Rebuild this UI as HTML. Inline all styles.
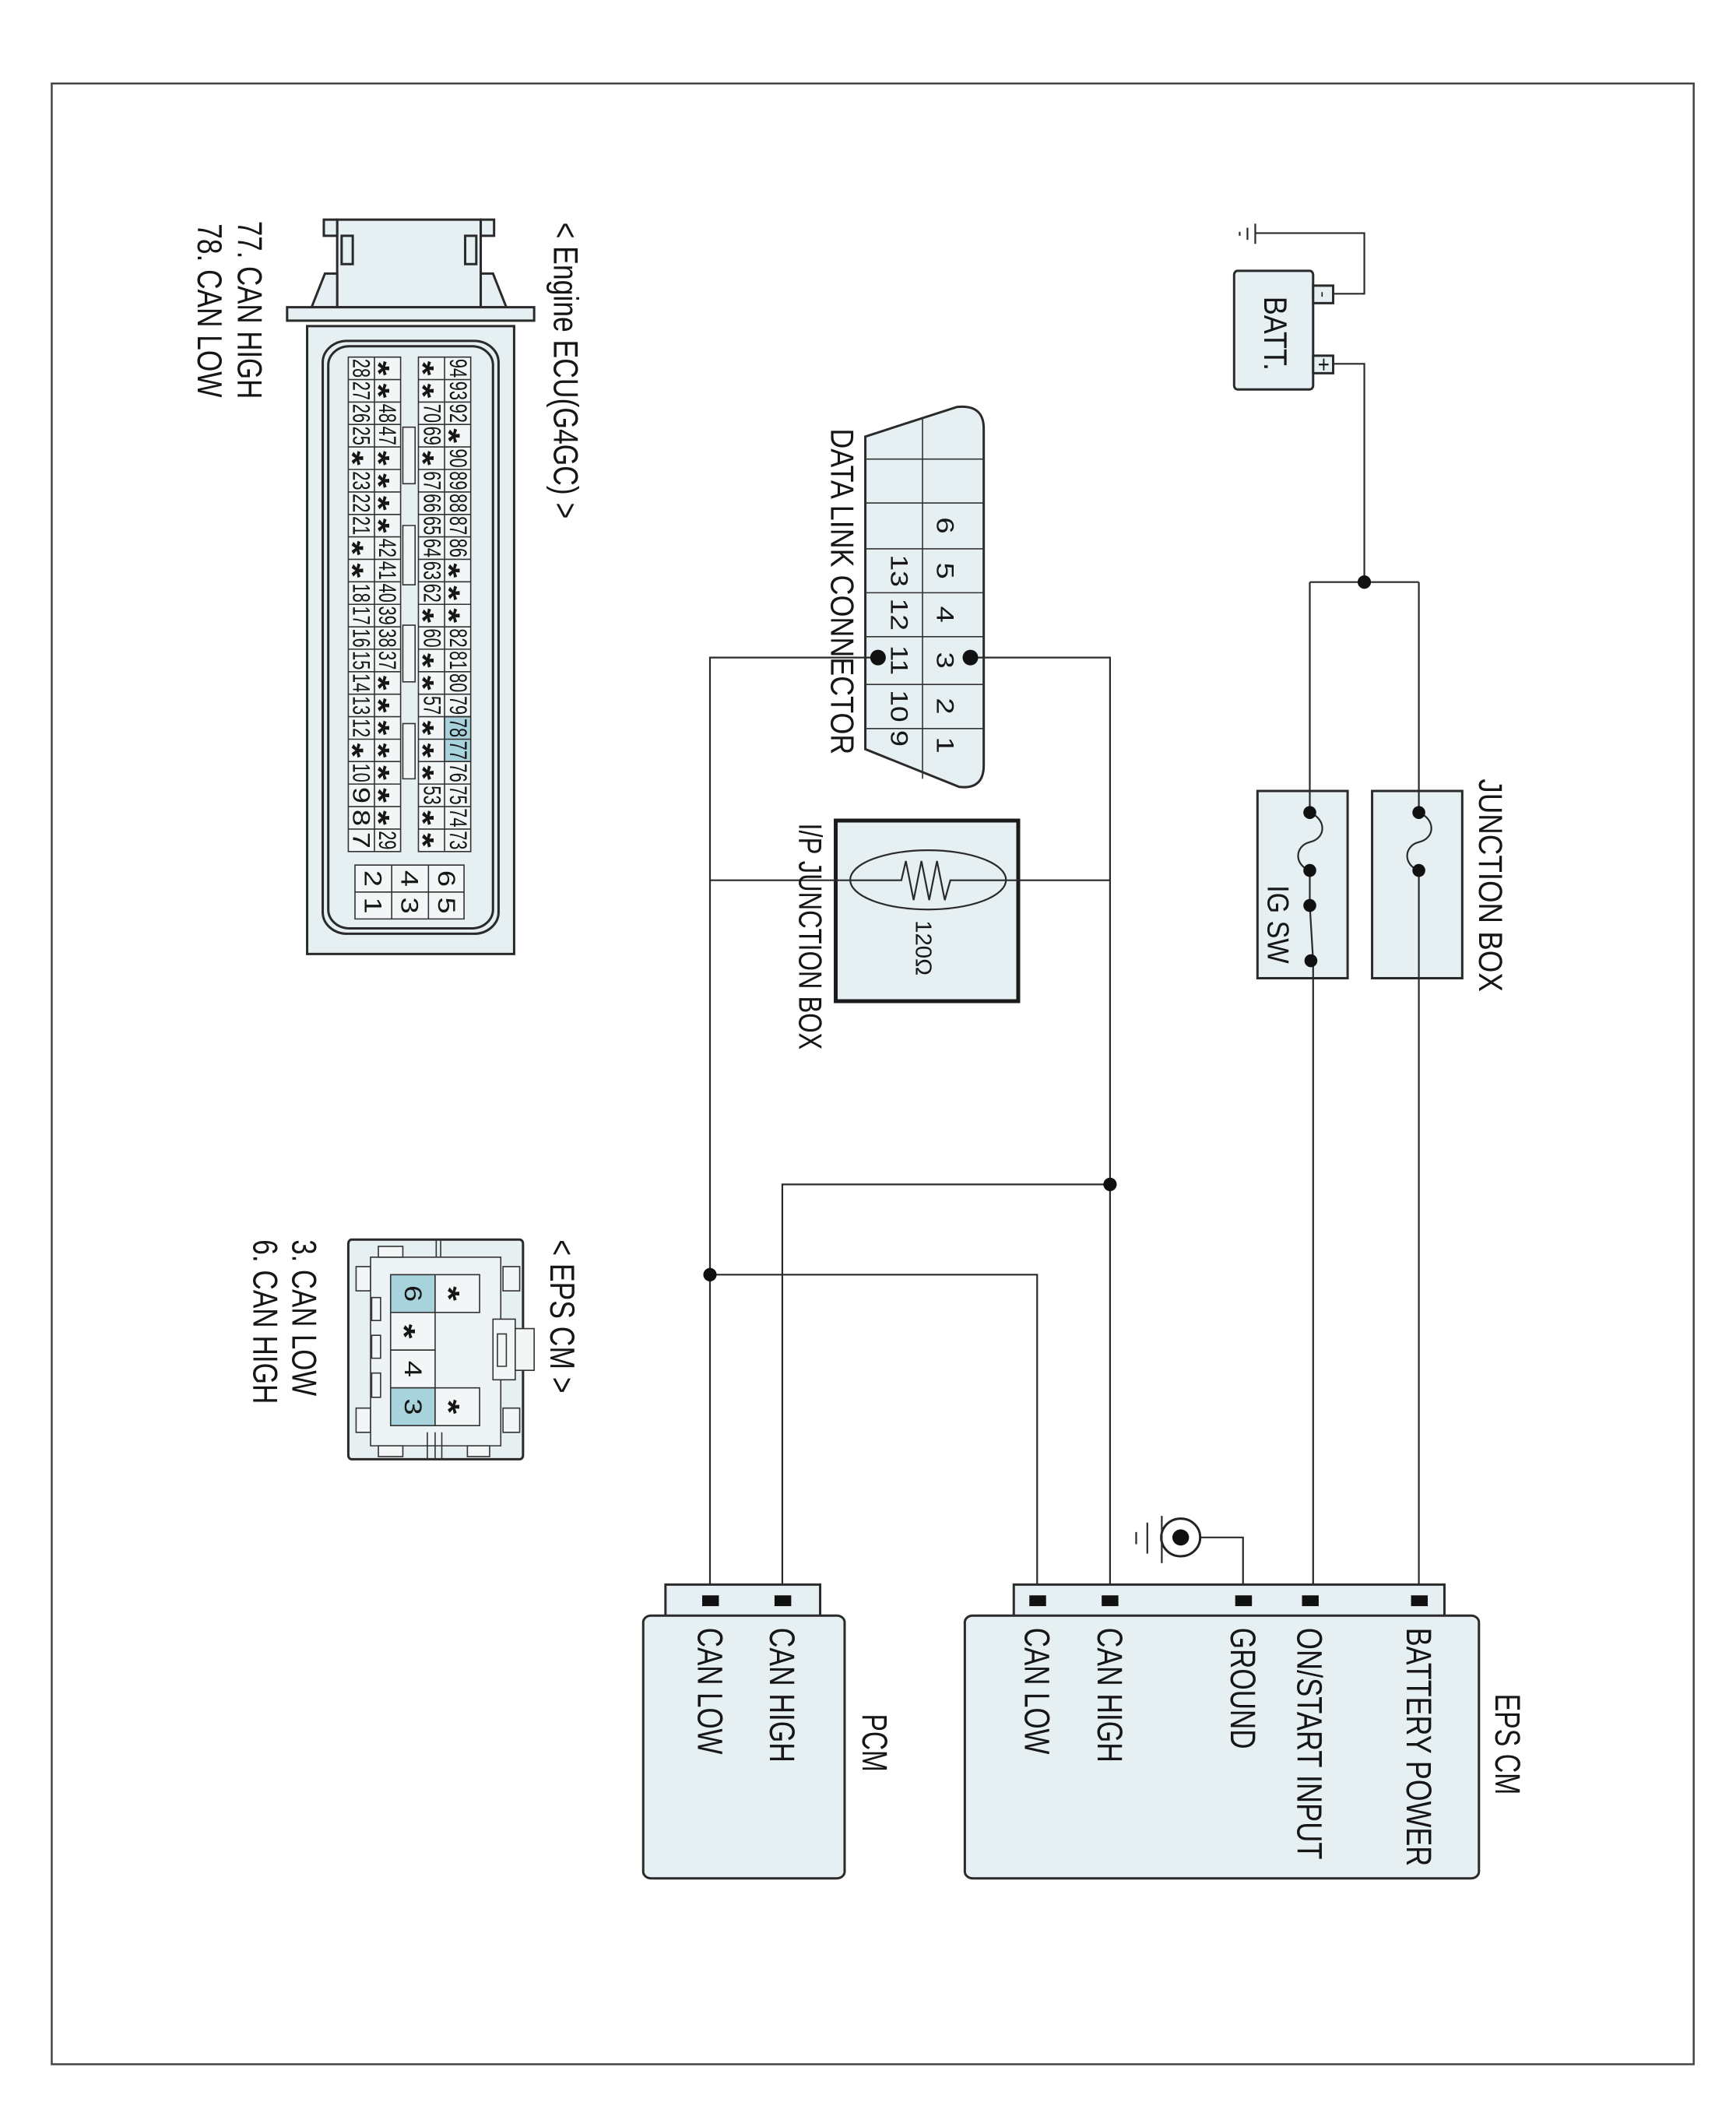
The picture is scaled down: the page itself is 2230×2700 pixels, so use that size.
<!DOCTYPE html>
<html><head><meta charset="utf-8"><style>
html,body{margin:0;padding:0;background:#fff;}
svg{display:block;}
text{font-family:"Liberation Sans",Arial,sans-serif;fill:#161616;}
.w{fill:none;stroke:#2a2a2a;stroke-width:2.2;vector-effect:non-scaling-stroke;}
.b{fill:#e6eff1;stroke:#2a2a2a;stroke-width:3;vector-effect:non-scaling-stroke;}
.bt{fill:#e6eff1;stroke:#1a1a1a;stroke-width:5;vector-effect:non-scaling-stroke;}
.c{fill:#f3f6f7;stroke:#333;stroke-width:1.6;vector-effect:non-scaling-stroke;}
.cy{fill:#a9d3dc;stroke:#333;stroke-width:1.6;vector-effect:non-scaling-stroke;}
.g{stroke:#333;stroke-width:1.6;vector-effect:non-scaling-stroke;fill:none;}
.n{font-size:22px;text-anchor:middle;dominant-baseline:central;}
.s{font-size:28px;text-anchor:middle;dominant-baseline:central;font-weight:bold;}
</style></head><body>
<svg width="2230" height="2700" viewBox="0 0 1560 1560" preserveAspectRatio="none" xmlns="http://www.w3.org/2000/svg">
<rect x="0" y="0" width="1560" height="1560" fill="#fff"/>
<rect x="46.5" y="62" width="1475.5" height="1470" fill="none" stroke="#444" stroke-width="2.5" vector-effect="non-scaling-stroke"/>

<!-- ===== ENGINE ECU ===== -->
<rect class="b" x="303" y="163" width="129" height="65"/>
<rect class="b" x="291" y="163" width="12" height="12"/>
<rect class="b" x="432" y="163" width="12" height="12"/>
<rect class="b" x="307" y="175" width="10" height="21"/>
<rect class="b" x="418" y="175" width="10" height="21"/>
<path class="b" d="M280,228 L292,203 L303,203 L303,228 Z"/>
<path class="b" d="M455,228 L443,203 L432,203 L432,228 Z"/>
<rect class="b" x="258" y="228" width="222" height="10"/>
<rect class="b" x="276" y="242" width="186" height="466"/>
<rect class="b" x="290" y="253" width="158" height="440" rx="22" ry="16"/>
<rect class="b" x="295" y="257" width="148" height="432" rx="19" ry="14"/>
<rect class="c" x="313" y="265" width="47" height="367"/>
<rect class="c" x="376" y="265" width="47" height="367"/>
<rect class="cy" x="399.5" y="531.9" width="23.5" height="33.3"/>
<path class="g" d="M336.5,265 V632 M399.5,265 V632
M313,281.7 H360 M376,281.7 H423 M313,298.4 H360 M376,298.4 H423 M313,315 H360 M376,315 H423 M313,331.7 H360 M376,331.7 H423
M313,348.4 H360 M376,348.4 H423 M313,365.1 H360 M376,365.1 H423 M313,381.8 H360 M376,381.8 H423 M313,398.4 H360 M376,398.4 H423
M313,415.1 H360 M376,415.1 H423 M313,431.8 H360 M376,431.8 H423 M313,448.5 H360 M376,448.5 H423 M313,465.2 H360 M376,465.2 H423
M313,481.8 H360 M376,481.8 H423 M313,498.5 H360 M376,498.5 H423 M313,515.2 H360 M376,515.2 H423 M313,531.9 H360 M376,531.9 H423
M313,548.6 H360 M376,548.6 H423 M313,565.2 H360 M376,565.2 H423 M313,581.9 H360 M376,581.9 H423 M313,598.6 H360 M376,598.6 H423
M313,615.3 H360 M376,615.3 H423"/>
<rect class="c" x="362" y="317" width="11" height="42"/>
<rect class="c" x="362" y="390" width="11" height="44"/>
<rect class="c" x="362" y="464" width="11" height="42"/>
<rect class="c" x="362" y="537" width="11" height="41"/>
<!-- 6 pin -->
<rect class="c" x="319" y="642" width="98" height="40"/>
<path class="g" d="M352,642 V682 M385,642 V682 M319,662 H417"/>

<!-- col1 94..73 -->
<g transform="translate(411.5,0)">
<text class="n" transform="translate(0,273.3) rotate(90)" textLength="14" lengthAdjust="spacingAndGlyphs">94</text>
<text class="n" transform="translate(0,290) rotate(90)" textLength="14" lengthAdjust="spacingAndGlyphs">93</text>
<text class="n" transform="translate(0,306.7) rotate(90)" textLength="14" lengthAdjust="spacingAndGlyphs">92</text>
<text class="s" transform="translate(0,323.4) rotate(90)" dy="0.3em">*</text>
<text class="n" transform="translate(0,340) rotate(90)" textLength="14" lengthAdjust="spacingAndGlyphs">90</text>
<text class="n" transform="translate(0,356.7) rotate(90)" textLength="14" lengthAdjust="spacingAndGlyphs">89</text>
<text class="n" transform="translate(0,373.4) rotate(90)" textLength="14" lengthAdjust="spacingAndGlyphs">88</text>
<text class="n" transform="translate(0,390.1) rotate(90)" textLength="14" lengthAdjust="spacingAndGlyphs">87</text>
<text class="n" transform="translate(0,406.7) rotate(90)" textLength="14" lengthAdjust="spacingAndGlyphs">86</text>
<text class="s" transform="translate(0,423.4) rotate(90)" dy="0.3em">*</text>
<text class="s" transform="translate(0,440.1) rotate(90)" dy="0.3em">*</text>
<text class="s" transform="translate(0,456.8) rotate(90)" dy="0.3em">*</text>
<text class="n" transform="translate(0,473.5) rotate(90)" textLength="14" lengthAdjust="spacingAndGlyphs">82</text>
<text class="n" transform="translate(0,490.1) rotate(90)" textLength="14" lengthAdjust="spacingAndGlyphs">81</text>
<text class="n" transform="translate(0,506.8) rotate(90)" textLength="14" lengthAdjust="spacingAndGlyphs">80</text>
<text class="n" transform="translate(0,523.5) rotate(90)" textLength="14" lengthAdjust="spacingAndGlyphs">79</text>
<text class="n" transform="translate(0,540.2) rotate(90)" textLength="14" lengthAdjust="spacingAndGlyphs">78</text>
<text class="n" transform="translate(0,556.9) rotate(90)" textLength="14" lengthAdjust="spacingAndGlyphs">77</text>
<text class="n" transform="translate(0,573.5) rotate(90)" textLength="14" lengthAdjust="spacingAndGlyphs">76</text>
<text class="n" transform="translate(0,590.2) rotate(90)" textLength="14" lengthAdjust="spacingAndGlyphs">75</text>
<text class="n" transform="translate(0,606.9) rotate(90)" textLength="14" lengthAdjust="spacingAndGlyphs">74</text>
<text class="n" transform="translate(0,623.6) rotate(90)" textLength="14" lengthAdjust="spacingAndGlyphs">73</text>
</g>
<!-- col2 72..51 -->
<g transform="translate(388,0)">
<text class="s" transform="translate(0,273.3) rotate(90)" dy="0.3em">*</text>
<text class="s" transform="translate(0,290) rotate(90)" dy="0.3em">*</text>
<text class="n" transform="translate(0,306.7) rotate(90)" textLength="14" lengthAdjust="spacingAndGlyphs">70</text>
<text class="n" transform="translate(0,323.4) rotate(90)" textLength="14" lengthAdjust="spacingAndGlyphs">69</text>
<text class="s" transform="translate(0,340) rotate(90)" dy="0.3em">*</text>
<text class="n" transform="translate(0,356.7) rotate(90)" textLength="14" lengthAdjust="spacingAndGlyphs">67</text>
<text class="n" transform="translate(0,373.4) rotate(90)" textLength="14" lengthAdjust="spacingAndGlyphs">66</text>
<text class="n" transform="translate(0,390.1) rotate(90)" textLength="14" lengthAdjust="spacingAndGlyphs">65</text>
<text class="n" transform="translate(0,406.7) rotate(90)" textLength="14" lengthAdjust="spacingAndGlyphs">64</text>
<text class="n" transform="translate(0,423.4) rotate(90)" textLength="14" lengthAdjust="spacingAndGlyphs">63</text>
<text class="n" transform="translate(0,440.1) rotate(90)" textLength="14" lengthAdjust="spacingAndGlyphs">62</text>
<text class="s" transform="translate(0,456.8) rotate(90)" dy="0.3em">*</text>
<text class="n" transform="translate(0,473.5) rotate(90)" textLength="14" lengthAdjust="spacingAndGlyphs">60</text>
<text class="s" transform="translate(0,490.1) rotate(90)" dy="0.3em">*</text>
<text class="s" transform="translate(0,506.8) rotate(90)" dy="0.3em">*</text>
<text class="n" transform="translate(0,523.5) rotate(90)" textLength="14" lengthAdjust="spacingAndGlyphs">57</text>
<text class="s" transform="translate(0,540.2) rotate(90)" dy="0.3em">*</text>
<text class="s" transform="translate(0,556.9) rotate(90)" dy="0.3em">*</text>
<text class="s" transform="translate(0,573.5) rotate(90)" dy="0.3em">*</text>
<text class="n" transform="translate(0,590.2) rotate(90)" textLength="14" lengthAdjust="spacingAndGlyphs">53</text>
<text class="s" transform="translate(0,606.9) rotate(90)" dy="0.3em">*</text>
<text class="s" transform="translate(0,623.6) rotate(90)" dy="0.3em">*</text>
</g>
<!-- col3 50..29 -->
<g transform="translate(348,0)">
<text class="s" transform="translate(0,273.3) rotate(90)" dy="0.3em">*</text>
<text class="s" transform="translate(0,290) rotate(90)" dy="0.3em">*</text>
<text class="n" transform="translate(0,306.7) rotate(90)" textLength="14" lengthAdjust="spacingAndGlyphs">48</text>
<text class="n" transform="translate(0,323.4) rotate(90)" textLength="14" lengthAdjust="spacingAndGlyphs">47</text>
<text class="s" transform="translate(0,340) rotate(90)" dy="0.3em">*</text>
<text class="s" transform="translate(0,356.7) rotate(90)" dy="0.3em">*</text>
<text class="s" transform="translate(0,373.4) rotate(90)" dy="0.3em">*</text>
<text class="s" transform="translate(0,390.1) rotate(90)" dy="0.3em">*</text>
<text class="n" transform="translate(0,406.7) rotate(90)" textLength="14" lengthAdjust="spacingAndGlyphs">42</text>
<text class="n" transform="translate(0,423.4) rotate(90)" textLength="14" lengthAdjust="spacingAndGlyphs">41</text>
<text class="n" transform="translate(0,440.1) rotate(90)" textLength="14" lengthAdjust="spacingAndGlyphs">40</text>
<text class="n" transform="translate(0,456.8) rotate(90)" textLength="14" lengthAdjust="spacingAndGlyphs">39</text>
<text class="n" transform="translate(0,473.5) rotate(90)" textLength="14" lengthAdjust="spacingAndGlyphs">38</text>
<text class="n" transform="translate(0,490.1) rotate(90)" textLength="14" lengthAdjust="spacingAndGlyphs">37</text>
<text class="s" transform="translate(0,506.8) rotate(90)" dy="0.3em">*</text>
<text class="s" transform="translate(0,523.5) rotate(90)" dy="0.3em">*</text>
<text class="s" transform="translate(0,540.2) rotate(90)" dy="0.3em">*</text>
<text class="s" transform="translate(0,556.9) rotate(90)" dy="0.3em">*</text>
<text class="s" transform="translate(0,573.5) rotate(90)" dy="0.3em">*</text>
<text class="s" transform="translate(0,590.2) rotate(90)" dy="0.3em">*</text>
<text class="s" transform="translate(0,606.9) rotate(90)" dy="0.3em">*</text>
<text class="n" transform="translate(0,623.6) rotate(90)" textLength="14" lengthAdjust="spacingAndGlyphs">29</text>
</g>
<!-- col4 28..7 -->
<g transform="translate(324.5,0)">
<text class="n" transform="translate(0,273.3) rotate(90)" textLength="14" lengthAdjust="spacingAndGlyphs">28</text>
<text class="n" transform="translate(0,290) rotate(90)" textLength="14" lengthAdjust="spacingAndGlyphs">27</text>
<text class="n" transform="translate(0,306.7) rotate(90)" textLength="14" lengthAdjust="spacingAndGlyphs">26</text>
<text class="n" transform="translate(0,323.4) rotate(90)" textLength="14" lengthAdjust="spacingAndGlyphs">25</text>
<text class="s" transform="translate(0,340) rotate(90)" dy="0.3em">*</text>
<text class="n" transform="translate(0,356.7) rotate(90)" textLength="14" lengthAdjust="spacingAndGlyphs">23</text>
<text class="n" transform="translate(0,373.4) rotate(90)" textLength="14" lengthAdjust="spacingAndGlyphs">22</text>
<text class="n" transform="translate(0,390.1) rotate(90)" textLength="14" lengthAdjust="spacingAndGlyphs">21</text>
<text class="s" transform="translate(0,406.7) rotate(90)" dy="0.3em">*</text>
<text class="s" transform="translate(0,423.4) rotate(90)" dy="0.3em">*</text>
<text class="n" transform="translate(0,440.1) rotate(90)" textLength="14" lengthAdjust="spacingAndGlyphs">18</text>
<text class="n" transform="translate(0,456.8) rotate(90)" textLength="14" lengthAdjust="spacingAndGlyphs">17</text>
<text class="n" transform="translate(0,473.5) rotate(90)" textLength="14" lengthAdjust="spacingAndGlyphs">16</text>
<text class="n" transform="translate(0,490.1) rotate(90)" textLength="14" lengthAdjust="spacingAndGlyphs">15</text>
<text class="n" transform="translate(0,506.8) rotate(90)" textLength="14" lengthAdjust="spacingAndGlyphs">14</text>
<text class="n" transform="translate(0,523.5) rotate(90)" textLength="14" lengthAdjust="spacingAndGlyphs">13</text>
<text class="n" transform="translate(0,540.2) rotate(90)" textLength="14" lengthAdjust="spacingAndGlyphs">12</text>
<text class="s" transform="translate(0,556.9) rotate(90)" dy="0.3em">*</text>
<text class="n" transform="translate(0,573.5) rotate(90)" textLength="14" lengthAdjust="spacingAndGlyphs">10</text>
<text class="n" transform="translate(0,590.2) rotate(90)">9</text>
<text class="n" transform="translate(0,606.9) rotate(90)">8</text>
<text class="n" transform="translate(0,623.6) rotate(90)">7</text>
</g>
<!-- 6 pin numbers -->
<text class="n" transform="translate(401,652) rotate(90)" font-size="18">6</text>
<text class="n" transform="translate(368,652) rotate(90)" font-size="18">4</text>
<text class="n" transform="translate(335,652) rotate(90)" font-size="18">2</text>
<text class="n" transform="translate(401,672) rotate(90)" font-size="18">5</text>
<text class="n" transform="translate(368,672) rotate(90)" font-size="18">3</text>
<text class="n" transform="translate(335,672) rotate(90)" font-size="18">1</text>

<text transform="translate(508,165) rotate(90)" font-size="31" dominant-baseline="central" textLength="220" lengthAdjust="spacingAndGlyphs">&lt; Engine ECU(G4GC) &gt;</text>
<text transform="translate(224,164) rotate(90)" font-size="31" dominant-baseline="central" textLength="132" lengthAdjust="spacingAndGlyphs">77. CAN HIGH</text>
<text transform="translate(188,166) rotate(90)" font-size="31" dominant-baseline="central" textLength="129" lengthAdjust="spacingAndGlyphs">78. CAN LOW</text>

<!-- ===== EPS CM connector ===== -->
<rect class="b" x="313" y="920" width="157" height="163" rx="3"/>
<path class="g" d="M396,920 V933 M392,920 V933"/>
<rect class="c" x="320" y="940" width="13" height="18"/>
<rect class="c" x="320" y="1045" width="13" height="18"/>
<rect class="c" x="452" y="940" width="15" height="18"/>
<rect class="c" x="452" y="1045" width="15" height="18"/>
<rect x="333" y="933" width="117" height="140" fill="#edf3f4" stroke="#333" stroke-width="1.6" vector-effect="non-scaling-stroke"/>
<rect class="c" x="340" y="925" width="22" height="8"/>
<rect class="c" x="340" y="1073" width="22" height="8"/>
<rect class="c" x="420" y="1073" width="20" height="8"/>
<path class="g" d="M384,1063 V1083 M391,1063 V1083 M397,1063 V1083"/>
<rect class="c" x="334" y="963" width="8" height="17"/>
<rect class="c" x="334" y="991" width="8" height="17"/>
<rect class="c" x="334" y="1019" width="8" height="18"/>
<rect class="cy" x="351" y="946" width="40" height="28"/>
<rect class="c" x="351" y="974" width="40" height="28"/>
<rect class="c" x="351" y="1002" width="40" height="28"/>
<rect class="cy" x="351" y="1030" width="40" height="28"/>
<rect class="c" x="391" y="946" width="40" height="28"/>
<rect class="c" x="391" y="1030" width="40" height="28"/>
<rect class="c" x="443" y="979" width="20" height="45"/>
<rect class="c" x="463" y="986" width="17" height="31"/>
<rect class="c" x="447" y="990" width="8" height="24"/>
<text class="n" font-size="30" transform="translate(371,960) rotate(90)">6</text>
<text class="s" font-size="34" transform="translate(371,988) rotate(90)" dy="0.3em">*</text>
<text class="n" font-size="30" transform="translate(371,1016) rotate(90)">4</text>
<text class="n" font-size="30" transform="translate(371,1044) rotate(90)">3</text>
<text class="s" font-size="34" transform="translate(411,960) rotate(90)" dy="0.3em">*</text>
<text class="s" font-size="34" transform="translate(411,1044) rotate(90)" dy="0.3em">*</text>
<text transform="translate(505,920) rotate(90)" font-size="31" dominant-baseline="central" textLength="114" lengthAdjust="spacingAndGlyphs">&lt; EPS CM &gt;</text>
<text transform="translate(273,920) rotate(90)" font-size="31" dominant-baseline="central" textLength="116" lengthAdjust="spacingAndGlyphs">3. CAN LOW</text>
<text transform="translate(238,920) rotate(90)" font-size="31" dominant-baseline="central" textLength="122" lengthAdjust="spacingAndGlyphs">6. CAN HIGH</text>

<!-- ===== DATA LINK CONNECTOR ===== -->
<path class="b" d="M777.6,324 L860,302 Q884,300 884,318 L884,568 Q884,586 862,584 L777.6,556 Z"/>
<path class="g" d="M829,310 V578 M777.6,340.7 H884 M777.6,373.3 H884 M777.6,407.3 H884 M777.6,439.9 H884 M777.6,472.5 H884 M777.6,508 H884 M777.6,540.7 H884"/>
<text class="n" font-size="27" transform="translate(849,390) rotate(90)">6</text>
<text class="n" font-size="27" transform="translate(849,423.6) rotate(90)">5</text>
<text class="n" font-size="27" transform="translate(849,456) rotate(90)">4</text>
<text class="n" font-size="27" transform="translate(849,490) rotate(90)">3</text>
<text class="n" font-size="27" transform="translate(849,524) rotate(90)">2</text>
<text class="n" font-size="27" transform="translate(849,553) rotate(90)">1</text>
<text class="n" font-size="27" transform="translate(808,423.6) rotate(90)" textLength="24" lengthAdjust="spacingAndGlyphs">13</text>
<text class="n" font-size="27" transform="translate(808,456) rotate(90)" textLength="24" lengthAdjust="spacingAndGlyphs">12</text>
<text class="n" font-size="27" transform="translate(808,490) rotate(90)" textLength="22" lengthAdjust="spacingAndGlyphs">11</text>
<text class="n" font-size="27" transform="translate(808,524) rotate(90)" textLength="24" lengthAdjust="spacingAndGlyphs">10</text>
<text class="n" font-size="27" transform="translate(808,548) rotate(90)">9</text>
<text transform="translate(757,318) rotate(90)" font-size="29" dominant-baseline="central" textLength="242" lengthAdjust="spacingAndGlyphs">DATA LINK CONNECTOR</text>

<!-- ===== I/P JUNCTION BOX ===== -->
<rect class="bt" x="751" y="609" width="164" height="134"/>
<ellipse cx="834" cy="653" rx="70" ry="22" class="w"/>
<path class="w" d="M638,653.3 H803 L810,653.3 L814,639 L821,668 L828,639 L835,668 L842,639 L849,668 L854,653.3 H997.5"/>
<text transform="translate(830,683) rotate(90)" font-size="20" dominant-baseline="central" textLength="41" lengthAdjust="spacingAndGlyphs">120Ω</text>
<text transform="translate(728,611) rotate(90)" font-size="29" dominant-baseline="central" textLength="168" lengthAdjust="spacingAndGlyphs">I/P JUNCTION BOX</text>

<!-- ===== WIRES CAN ===== -->
<path class="w" d="M872,488 H997.5 V1188"/>
<path class="w" d="M789,488 H638 V1188"/>
<path class="w" d="M997.5,879 H703 V1188"/>
<path class="w" d="M638,946 H932 V1188"/>
<ellipse cx="872" cy="488" rx="7" ry="5.8" fill="#111"/>
<ellipse cx="789" cy="488" rx="7" ry="5.8" fill="#111"/>
<ellipse cx="997.5" cy="879" rx="6" ry="5" fill="#111"/>
<ellipse cx="638" cy="946" rx="6" ry="5" fill="#111"/>

<!-- ===== BATTERY ===== -->
<rect class="b" x="1109" y="201" width="71" height="88" rx="3"/>
<rect class="b" x="1180" y="212" width="18" height="13"/>
<rect class="b" x="1180" y="264" width="18" height="13"/>
<text transform="translate(1189,218.5) rotate(90)" font-size="14" text-anchor="middle" dominant-baseline="central">-</text>
<text transform="translate(1189,270.5) rotate(90)" font-size="18" text-anchor="middle" dominant-baseline="central">+</text>
<text transform="translate(1146,220) rotate(90)" font-size="29" dominant-baseline="central" textLength="55" lengthAdjust="spacingAndGlyphs">BATT.</text>
<path class="w" d="M1198,218 H1226 V173 H1128"/>
<path class="w" d="M1128,166 V181 M1121,169 V178 M1114,172 V175"/>
<path class="w" d="M1198,270 H1226 V432 M1177,432 H1275"/>
<ellipse cx="1226" cy="432" rx="6" ry="5" fill="#111"/>

<!-- ===== IG SW / JUNCTION BOX ===== -->
<rect class="b" x="1130" y="587" width="81" height="139"/>
<rect class="b" x="1233" y="587" width="81" height="139"/>
<path class="w" d="M1177,432 V603 C1192,608 1192,622 1177,625 C1163,628 1163,642 1177,646 V672 L1180,713 V1188"/>
<path class="w" d="M1275,432 V603 C1290,608 1290,622 1275,625 C1261,628 1261,642 1275,646 V1188"/>
<ellipse cx="1177" cy="603" rx="5.8" ry="4.8" fill="#111"/>
<ellipse cx="1177" cy="646" rx="5.8" ry="4.8" fill="#111"/>
<ellipse cx="1177" cy="672" rx="5.8" ry="4.8" fill="#111"/>
<ellipse cx="1178" cy="713" rx="5.8" ry="4.8" fill="#111"/>
<ellipse cx="1275" cy="603" rx="5.8" ry="4.8" fill="#111"/>
<ellipse cx="1275" cy="646" rx="5.8" ry="4.8" fill="#111"/>
<text transform="translate(1148,657) rotate(90)" font-size="27" dominant-baseline="central" textLength="58" lengthAdjust="spacingAndGlyphs">IG SW</text>
<text transform="translate(1339,578) rotate(90)" font-size="30" dominant-baseline="central" textLength="158" lengthAdjust="spacingAndGlyphs">JUNCTION BOX</text>

<!-- ===== GROUND symbol ===== -->
<path class="w" d="M1117,1188 V1141 H1079"/>
<ellipse cx="1061" cy="1141" rx="17.5" ry="14" fill="#fff" stroke="#222" stroke-width="3" vector-effect="non-scaling-stroke"/>
<ellipse cx="1061" cy="1141" rx="7.5" ry="6" fill="#111"/>
<path class="w" d="M1043.5,1141 H1044 M1044,1125 V1160 M1031,1130 V1153 M1021,1137 V1146"/>
<path class="w" d="M1044,1141 H1043"/>

<!-- ===== EPS CM box ===== -->
<rect class="b" x="911" y="1176" width="387" height="26"/>
<rect class="b" x="867" y="1199" width="462" height="195" rx="7" ry="5"/>
<rect x="925" y="1184" width="15" height="8" fill="#111"/>
<rect x="990" y="1184" width="15" height="8" fill="#111"/>
<rect x="1110" y="1184" width="15" height="8" fill="#111"/>
<rect x="1170" y="1184" width="15" height="8" fill="#111"/>
<rect x="1268" y="1184" width="15" height="8" fill="#111"/>
<text transform="translate(932,1208) rotate(90)" font-size="32" dominant-baseline="central" textLength="94" lengthAdjust="spacingAndGlyphs">CAN LOW</text>
<text transform="translate(997.5,1208) rotate(90)" font-size="32" dominant-baseline="central" textLength="100" lengthAdjust="spacingAndGlyphs">CAN HIGH</text>
<text transform="translate(1117,1208) rotate(90)" font-size="32" dominant-baseline="central" textLength="90" lengthAdjust="spacingAndGlyphs">GROUND</text>
<text transform="translate(1177,1208) rotate(90)" font-size="32" dominant-baseline="central" textLength="172" lengthAdjust="spacingAndGlyphs">ON/START INPUT</text>
<text transform="translate(1275,1208) rotate(90)" font-size="32" dominant-baseline="central" textLength="177" lengthAdjust="spacingAndGlyphs">BATTERY POWER</text>
<text transform="translate(1355,1257) rotate(90)" font-size="32" dominant-baseline="central" textLength="75" lengthAdjust="spacingAndGlyphs">EPS CM</text>

<!-- ===== PCM box ===== -->
<rect class="b" x="598" y="1176" width="139" height="26"/>
<rect class="b" x="578" y="1199" width="181" height="195" rx="7" ry="5"/>
<rect x="631" y="1184" width="15" height="8" fill="#111"/>
<rect x="696" y="1184" width="15" height="8" fill="#111"/>
<text transform="translate(638,1208) rotate(90)" font-size="32" dominant-baseline="central" textLength="94" lengthAdjust="spacingAndGlyphs">CAN LOW</text>
<text transform="translate(703,1208) rotate(90)" font-size="32" dominant-baseline="central" textLength="100" lengthAdjust="spacingAndGlyphs">CAN HIGH</text>
<text transform="translate(786,1272) rotate(90)" font-size="32" dominant-baseline="central" textLength="43" lengthAdjust="spacingAndGlyphs">PCM</text>
</svg>
</body></html>
